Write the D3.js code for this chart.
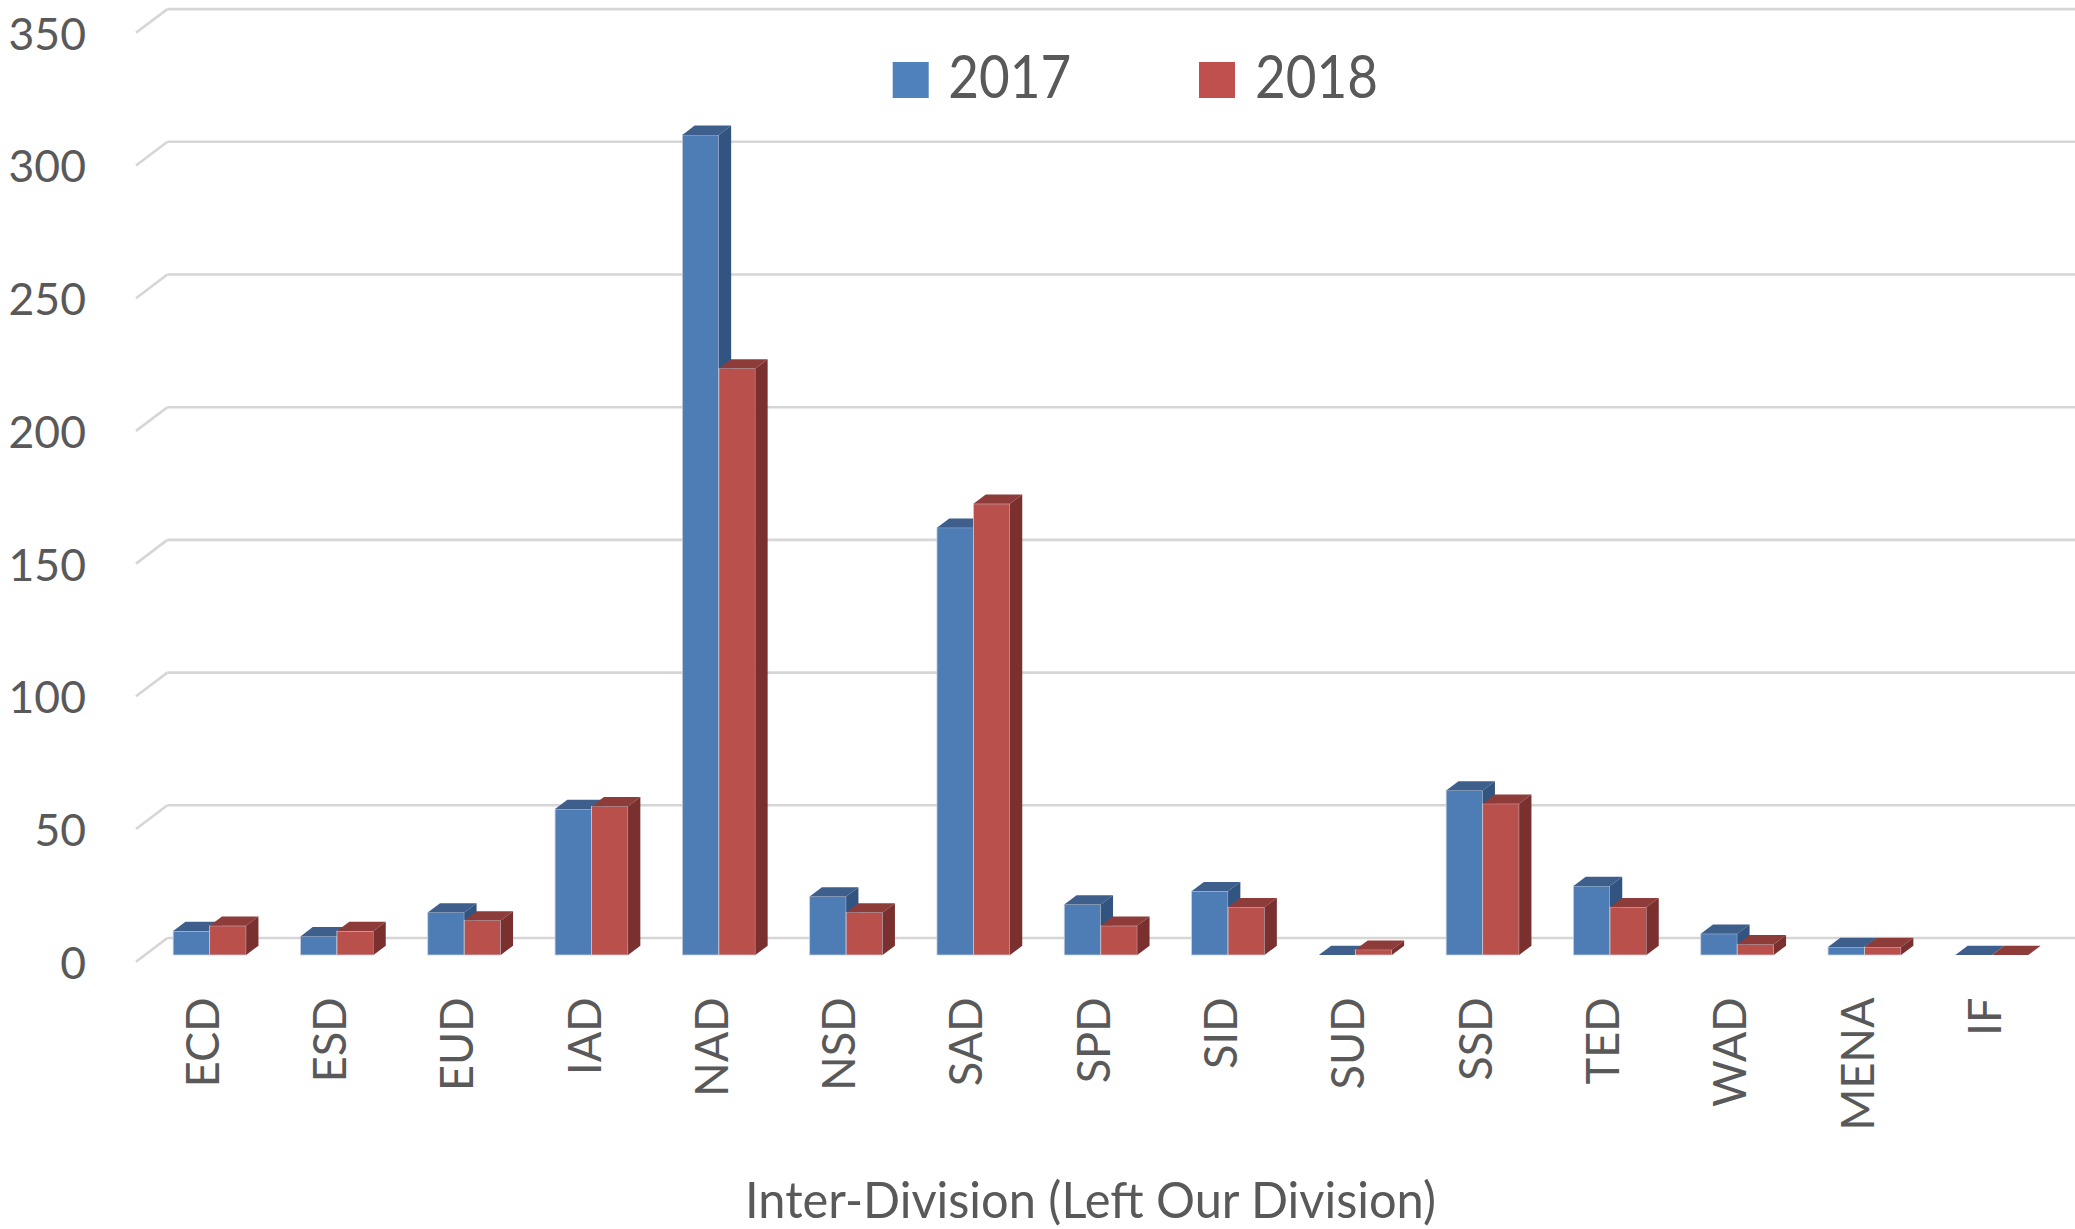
<!DOCTYPE html>
<html>
<head>
<meta charset="utf-8">
<script src="https://cdn.jsdelivr.net/npm/d3@7"></script>
<style>
  html, body { margin: 0; padding: 0; background: #fff; }
  svg { display: block; }
  text { font-family: Lato, "Open Sans", sans-serif; fill: #595959; }
</style>
</head>
<body>
<svg id="chart" width="2075" height="1229"></svg>
<script>
// ---- data ----
const categories = ["ECD","ESD","EUD","IAD","NAD","NSD","SAD","SPD","SID","SUD","SSD","TED","WAD","MENA","IF"];
const series = ["2017","2018"];
const values2017 = [9, 7, 16, 55, 309, 22, 161, 19, 24, 0, 62, 26, 8, 3, 0];
const values2018 = [11, 9, 13, 56, 221, 16, 170, 11, 18, 2, 57, 18, 4, 3, 0];
const yTicks = [0, 50, 100, 150, 200, 250, 300, 350];
const xTitle = "Inter-Division (Left Our Division)";

const faceColors = {
  "2017": { front: "#4D7DB4", top: "#3E5F8B", side: "#325480", legend: "#4F81BD" },
  "2018": { front: "#B9504C", top: "#8E3C3A", side: "#7A302F", legend: "#C0504D" }
};

const svg = d3.select("#chart");

// ---- layout ----
const baseFront = 955;          // bar front-face baseline
const unit = 2.654;             // px per value unit
const wallShift = 17;           // bar front baseline -> back wall baseline
const floorDy = 23.7, floorDx = 31.4;
const barDy = 9.3, barDx = 12.3;
const wallLeft = 167.4;

const y = d3.scaleLinear().domain([0, 350]).range([baseFront, baseFront - 350 * unit]);
const x0 = d3.scaleBand().domain(categories).range([146, 146 + 15 * 127.3])
  .paddingInner(0.4266).paddingOuter(0.2133);
const x1 = d3.scaleBand().domain(series).range([0, x0.bandwidth()]).padding(0);

// ---- gridlines (back wall + left wall diagonal) ----
const grid = svg.append("g");
yTicks.forEach(t => {
  const yb = y(t) - wallShift;
  grid.append("line").attr("x1", wallLeft).attr("x2", 2075).attr("y1", yb).attr("y2", yb)
    .attr("stroke", "#D6D6D6").attr("stroke-width", 2.6);
  grid.append("line").attr("x1", wallLeft).attr("y1", yb)
    .attr("x2", wallLeft - floorDx).attr("y2", yb + floorDy)
    .attr("stroke", "#D6D6D6").attr("stroke-width", 2.6);
});

// ---- y axis labels ----
const yLab = d3.scaleLinear().domain([0, 350])
  .range([y(0) - wallShift + floorDy, y(350) - wallShift + floorDy]);
const yAxis = svg.append("g").attr("transform", "translate(86,0)")
  .call(d3.axisLeft(yLab).tickValues(yTicks).tickSize(0).tickPadding(0).tickFormat(d3.format("d")));
yAxis.select(".domain").remove();
yAxis.selectAll("text").attr("font-size", 44.5).attr("dy", "0.37em")
  .style("font-family", "Lato, sans-serif").attr("fill", "#595959");

// ---- bars ----
const data = categories.map((c, i) => ({ cat: c, vals: [
  { s: "2017", v: values2017[i] }, { s: "2018", v: values2018[i] }] }));

const barsG = svg.append("g");
data.forEach(d => {
  d.vals.forEach(b => {
    const xl = x0(d.cat) + x1(b.s);
    const w = x1.bandwidth();
    const yt = y(b.v);
    const col = faceColors[b.s];
    const g = barsG.append("g");
    // front
    g.append("rect").attr("x", xl).attr("y", yt).attr("width", w).attr("height", baseFront - yt)
      .attr("fill", col.front).attr("stroke", "#C9D0DA").attr("stroke-width", 0.8);
    // top
    g.append("path").attr("d",
      `M${xl},${yt} L${xl + barDx},${yt - barDy} L${xl + w + barDx},${yt - barDy} L${xl + w},${yt} Z`)
      .attr("fill", col.top);
    // side
    g.append("path").attr("d",
      `M${xl + w},${yt} L${xl + w + barDx},${yt - barDy} L${xl + w + barDx},${baseFront - barDy} L${xl + w},${baseFront} Z`)
      .attr("fill", col.side);
  });
});

// ---- category labels ----
const catG = svg.append("g");
categories.forEach(c => {
  const cx = x0(c) + x0.bandwidth() / 2 + 9;
  catG.append("text")
    .attr("transform", `translate(${cx},997.5) rotate(-90) scale(0.96,1)`)
    .attr("text-anchor", "end")
    .attr("font-size", 47)
    .text(c);
});

// ---- x axis title ----
svg.append("text").attr("x", 745).attr("y", 1218)
  .attr("font-size", 51).attr("textLength", 691).attr("lengthAdjust", "spacingAndGlyphs")
  .text(xTitle);

// ---- legend ----
const legendPos = [{ sq: 892.7, tx: 948.3 }, { sq: 1199, tx: 1255 }];
series.forEach((s, i) => {
  svg.append("rect").attr("x", legendPos[i].sq).attr("y", 62).attr("width", 36).attr("height", 36)
    .attr("fill", faceColors[s].legend);
  svg.append("text").attr("x", legendPos[i].tx).attr("y", 97.7)
    .attr("font-size", 59.5).attr("textLength", 123).attr("lengthAdjust", "spacingAndGlyphs")
    .text(s);
});
</script>
</body>
</html>
